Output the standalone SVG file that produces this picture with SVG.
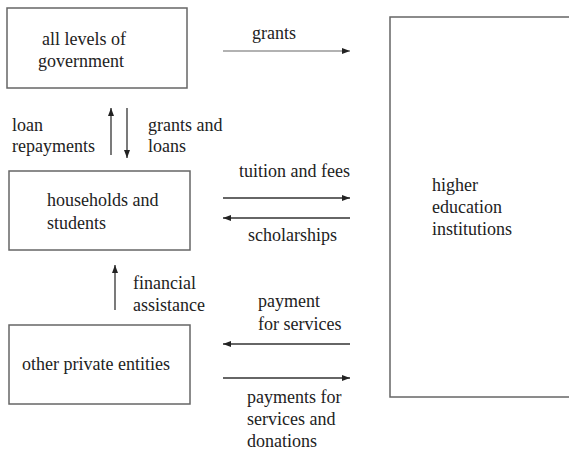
<svg xmlns="http://www.w3.org/2000/svg" width="569" height="452" viewBox="0 0 569 452">
<style>
.box{fill:#fff;stroke:#666;stroke-width:1.5}
.t{font-family:"Times New Roman","Liberation Serif",Tinos,"Nimbus Roman","DejaVu Serif",serif;font-size:18px;fill:#222}
.c{stroke:#333;stroke-width:1.3;fill:none}
</style>
<defs>
<marker id="ah" viewBox="0 0 8 6" refX="8" refY="3" markerWidth="8" markerHeight="6" markerUnits="userSpaceOnUse" orient="auto">
<path d="M0,0 L8,3 L0,6 Z" fill="#222"/>
</marker>
</defs>
<rect width="569" height="452" fill="#fff"/>
<g id="government">
<rect class="box" x="7" y="8" width="180" height="80"/>
<text class="t" x="42" y="45">all levels of</text>
<text class="t" x="38" y="67">government</text>
</g>
<g id="households">
<rect class="box" x="9" y="171" width="181" height="79"/>
<text class="t" x="47" y="206">households and</text>
<text class="t" x="47" y="229">students</text>
</g>
<g id="private">
<rect class="box" x="9" y="325" width="181" height="79"/>
<text class="t" x="22" y="370">other private entities</text>
</g>
<g id="institutions">
<rect class="box" x="390" y="17" width="185" height="380"/>
<text class="t" x="432" y="191">higher</text>
<text class="t" x="432" y="213">education</text>
<text class="t" x="432" y="235">institutions</text>
</g>
<g id="connectors">
<line class="c" x1="223" y1="51" x2="350" y2="51" marker-end="url(#ah)" style="stroke:#999"/>
<line class="c" x1="111" y1="155" x2="111" y2="108" marker-end="url(#ah)"/>
<line class="c" x1="127" y1="108" x2="127" y2="158" marker-end="url(#ah)"/>
<line class="c" x1="223" y1="198" x2="350" y2="198" marker-end="url(#ah)"/>
<line class="c" x1="350" y1="218" x2="223" y2="218" marker-end="url(#ah)"/>
<line class="c" x1="115" y1="310" x2="115" y2="265" marker-end="url(#ah)"/>
<line class="c" x1="350" y1="344" x2="223" y2="344" marker-end="url(#ah)"/>
<line class="c" x1="223" y1="378" x2="350" y2="378" marker-end="url(#ah)"/>
</g>
<g id="labels">
<text class="t" x="252" y="39">grants</text>
<text class="t" x="12" y="131">loan</text>
<text class="t" x="12" y="152">repayments</text>
<text class="t" x="148" y="131">grants and</text>
<text class="t" x="148" y="152">loans</text>
<text class="t" x="239" y="177">tuition and fees</text>
<text class="t" x="248" y="241">scholarships</text>
<text class="t" x="133" y="289">financial</text>
<text class="t" x="133" y="311">assistance</text>
<text class="t" x="258" y="307">payment</text>
<text class="t" x="258" y="330">for services</text>
<text class="t" x="247" y="403">payments for</text>
<text class="t" x="247" y="425">services and</text>
<text class="t" x="247" y="447">donations</text>
</g>
</svg>
